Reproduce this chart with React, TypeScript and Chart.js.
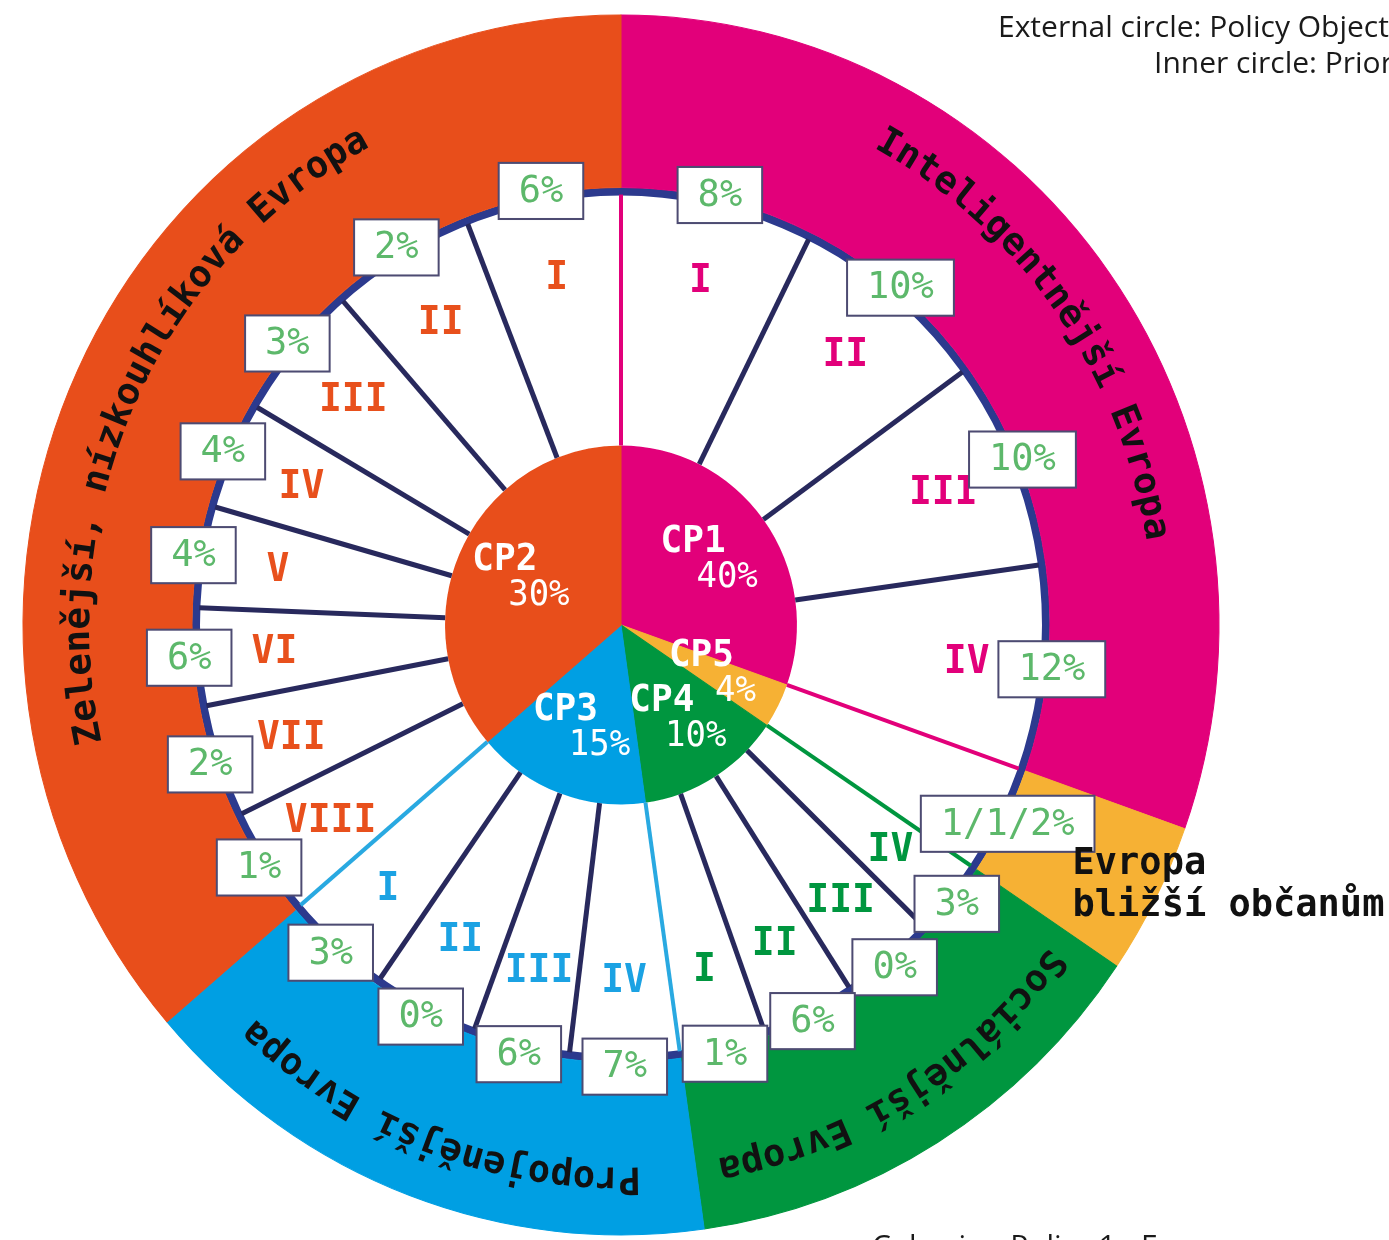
import React, { useEffect, useRef } from 'react';
import { Chart, registerables } from 'chart.js';

Chart.register(...registerables);

// Policy objectives (clockwise from the top)
const policyCodes = ['CP1', 'CP5', 'CP4', 'CP3', 'CP2'];
const policyShares = ['40%', '4%', '10%', '15%', '30%'];
const policyNames = [
  'Inteligentnější Evropa',
  'Evropa\nbližší občanům',
  'Sociálnější Evropa',
  'Propojenější Evropa',
  'Zelenější, nízkouhlíková Evropa',
];
// angular size of each sector as drawn in the picture (degrees)
const policySpanDeg = [109.5, 14.5, 48, 57.4, 130.6];

// Priorities (clockwise from the top)
const subPolicy = [0, 0, 0, 0, 1, 2, 2, 2, 2, 3, 3, 3, 3, 4, 4, 4, 4, 4, 4, 4, 4];
const subSpanDeg = [26.4, 27.6, 28, 27.5, 14.5, 10.3, 13, 12.9, 11.8, 15, 13.3, 14.5, 14.6, 14.6, 15.2, 13.1, 13.6, 14.5, 18.4, 19.9, 21.3];
const subNumerals = ['I', 'II', 'III', 'IV', '', 'IV', 'III', 'II', 'I', 'IV', 'III', 'II', 'I', 'VIII', 'VII', 'VI', 'V', 'IV', 'III', 'II', 'I'];
const subShares = ['8%', '10%', '10%', '12%', '1/1/2%', '3%', '0%', '6%', '1%', '7%', '6%', '0%', '3%', '1%', '2%', '6%', '4%', '4%', '3%', '2%', '6%'];

const legendLines = ['External circle: Policy Objectives', 'Inner circle: Priorities'];
const footerText = 'Cohesion Policy 1 - Evropa';

// styles
const policyColors = ['#e2007a', '#f6b134', '#00963f', '#009fe3', '#e84e1b'];
const numeralColors = ['#e2007a', '#f6b134', '#00963f', '#1ba2e3', '#e8501c'];
const boundaryColors = ['#e2007a', '#e2007a', '#00963f', '#29a9e1', '#29a9e1'];
const NAVY_RING = '#2c3a8e';
const NAVY_SPOKE = '#28295d';
const BOX_BORDER = '#4d4b72';
const BOX_TEXT = '#5db86b';
const MONO = '"DejaVu Sans Mono", "Liberation Mono", monospace';
const STRETCH_Y = 1.02;

function drawCurved(ctx: CanvasRenderingContext2D, text: string, cx: number, cy: number, r: number, mid: number) {
  const chars = Array.from(text);
  const widths = chars.map((c) => ctx.measureText(c).width);
  const total = widths.reduce((a, b) => a + b, 0);
  let a = mid - total / (2 * r);
  chars.forEach((ch, i) => {
    const w = widths[i];
    const ang = a + w / (2 * r);
    ctx.save();
    ctx.translate(cx + r * Math.cos(ang), cy + r * Math.sin(ang));
    ctx.rotate(ang + Math.PI / 2);
    ctx.fillText(ch, 0, 0);
    ctx.restore();
    a += w / r;
  });
}

const PROPS = ['x', 'y', 'startAngle', 'endAngle', 'innerRadius', 'outerRadius'];

const overlayPlugin = {
  id: 'overlay',
  beforeDatasetsDraw(chart: any) {
    const ctx: CanvasRenderingContext2D = chart.ctx;
    const a = chart.chartArea;
    const cy = (a.top + a.bottom) / 2;
    ctx.save();
    ctx.translate(0, cy);
    ctx.scale(1, STRETCH_Y);
    ctx.translate(0, -cy);
  },
  afterDatasetsDraw(chart: any) {
    const ctx: CanvasRenderingContext2D = chart.ctx;
    const outerArcs = chart.getDatasetMeta(0).data;
    const subArcs = chart.getDatasetMeta(2).data;
    const innerArcs = chart.getDatasetMeta(3).data;

    ctx.save();
    // spokes
    subArcs.forEach((arc: any, i: number) => {
      const p = arc.getProps(PROPS, true);
      const first = i === 0 || subPolicy[i] !== subPolicy[i - 1];
      ctx.beginPath();
      ctx.strokeStyle = first ? boundaryColors[subPolicy[i]] : NAVY_SPOKE;
      ctx.lineWidth = first ? 4 : 5;
      ctx.moveTo(p.x + p.innerRadius * Math.cos(p.startAngle), p.y + p.innerRadius * Math.sin(p.startAngle));
      ctx.lineTo(p.x + (p.outerRadius + 1) * Math.cos(p.startAngle), p.y + (p.outerRadius + 1) * Math.sin(p.startAngle));
      ctx.stroke();
    });

    // roman numerals
    ctx.font = `bold 38px ${MONO}`;
    ctx.textAlign = 'center';
    ctx.textBaseline = 'middle';
    subArcs.forEach((arc: any, i: number) => {
      const p = arc.getProps(PROPS, true);
      const mid = (p.startAngle + p.endAngle) / 2;
      const r = p.innerRadius + 0.7 * (p.outerRadius - p.innerRadius);
      ctx.fillStyle = numeralColors[subPolicy[i]];
      ctx.fillText(subNumerals[i], p.x + r * Math.cos(mid), p.y + r * Math.sin(mid) + 2);
    });

    // percentage boxes
    ctx.font = `37px ${MONO}`;
    subArcs.forEach((arc: any, i: number) => {
      const p = arc.getProps(PROPS, true);
      const mid = (p.startAngle + p.endAngle) / 2;
      const r = p.outerRadius + 12;
      const bx = p.x + r * Math.cos(mid);
      const by = p.y + r * Math.sin(mid);
      const tw = ctx.measureText(subShares[i]).width;
      const w = tw + 40;
      const h = 55;
      ctx.fillStyle = '#ffffff';
      ctx.fillRect(bx - w / 2, by - h / 2, w, h);
      ctx.strokeStyle = BOX_BORDER;
      ctx.lineWidth = 2;
      ctx.strokeRect(bx - w / 2, by - h / 2, w, h);
      ctx.fillStyle = BOX_TEXT;
      ctx.fillText(subShares[i], bx, by + 1);
    });

    // inner pie labels
    innerArcs.forEach((arc: any, i: number) => {
      const p = arc.getProps(PROPS, true);
      const mid = (p.startAngle + p.endAngle) / 2;
      const r = p.outerRadius * 0.62;
      const cx = p.x + r * Math.cos(mid);
      const cy = p.y + r * Math.sin(mid);
      ctx.fillStyle = '#ffffff';
      ctx.font = `bold 36px ${MONO}`;
      ctx.fillText(policyCodes[i], cx - 17, cy - 18);
      ctx.font = `34px ${MONO}`;
      ctx.fillText(policyShares[i], cx + 17, cy + 17);
    });

    // outer ring names
    ctx.fillStyle = '#111111';
    ctx.font = `bold 37px ${MONO}`;
    outerArcs.forEach((arc: any, i: number) => {
      const p = arc.getProps(PROPS, true);
      const mid = (p.startAngle + p.endAngle) / 2;
      const name = policyNames[i];
      if (name.includes('\n')) {
        const r = (p.innerRadius + p.outerRadius) / 2;
        const px = p.x + r * Math.cos(mid);
        const py = p.y + r * Math.sin(mid);
        ctx.textAlign = 'left';
        ctx.textBaseline = 'middle';
        name.split('\n').forEach((line, k) => {
          ctx.fillText(line, px - 7, py + 3 + k * 42);
        });
      } else {
        ctx.textAlign = 'center';
        ctx.textBaseline = 'alphabetic';
        drawCurved(ctx, name, p.x, p.y, p.outerRadius - 66, mid);
      }
    });
    ctx.restore();
    // end of vertical stretch
    ctx.restore();
  },
  afterDraw(chart: any) {
    const ctx: CanvasRenderingContext2D = chart.ctx;
    ctx.save();
    ctx.fillStyle = '#1a1a1a';
    ctx.font = '30px "Open Sans", sans-serif';
    ctx.textAlign = 'left';
    ctx.textBaseline = 'alphabetic';
    ctx.fillText(legendLines[0], 998, 37);
    ctx.fillText(legendLines[1], 1154, 73);
    ctx.fillText(footerText, 872, 1256);
    ctx.restore();
  },
};

export default function App() {
  const ref = useRef<HTMLCanvasElement>(null);
  useEffect(() => {
    const canvas = ref.current;
    if (!canvas) return;
    const chart = new Chart(canvas, {
      type: 'doughnut',
      data: {
        labels: subShares,
        datasets: [
          {
            label: 'Policy objectives',
            data: policySpanDeg,
            backgroundColor: policyColors,
            borderColor: policyColors,
            borderWidth: 1,
            weight: 169,
          } as any,
          {
            label: 'ring',
            data: [360],
            backgroundColor: [NAVY_RING],
            borderColor: [NAVY_RING],
            borderWidth: 0,
            weight: 8,
          } as any,
          {
            label: 'Priorities',
            data: subSpanDeg,
            backgroundColor: '#ffffff',
            borderWidth: 0,
            weight: 245,
          } as any,
          {
            label: 'Policy shares',
            data: policySpanDeg,
            backgroundColor: policyColors,
            borderColor: policyColors,
            borderWidth: 1,
            weight: 176,
          } as any,
        ],
      },
      options: {
        responsive: false,
        animation: false,
        radius: 598,
        cutout: 0,
        events: [],
        layout: { padding: { left: 0, right: 147, top: 10, bottom: 0 } },
        plugins: { legend: { display: false }, tooltip: { enabled: false } },
      } as any,
      plugins: [overlayPlugin],
    });
    return () => chart.destroy();
  }, []);
  return (
    <div style={{ position: 'fixed', left: 0, top: 0, width: 1389, height: 1240, background: '#ffffff', overflow: 'hidden' }}>
      <canvas ref={ref} width={1389} height={1240} style={{ display: 'block', width: 1389, height: 1240 }} />
    </div>
  );
}
